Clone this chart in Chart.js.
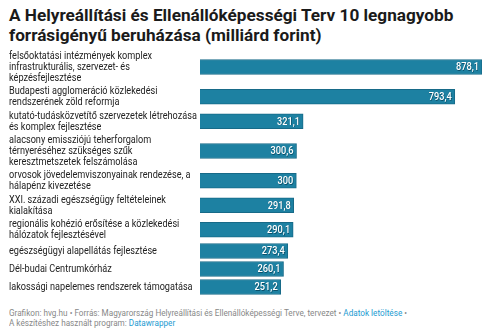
<!DOCTYPE html>
<html><head><meta charset="utf-8">
<script src="https://cdn.jsdelivr.net/npm/chart.js@4"></script>
<style>
html,body{margin:0;padding:0;background:#fff;width:490px;height:335px;overflow:hidden;font-family:Roboto,"Noto Sans",sans-serif;}
#title{position:absolute;left:9px;top:5px;width:475px;font-weight:bold;font-size:17.2px;line-height:20px;color:#1a1a1a;}
#wrap{position:absolute;left:0;top:0;width:490px;height:300px;}
#foot{position:absolute;left:9px;top:308px;font-size:9.5px;line-height:10px;color:#888;white-space:nowrap;transform:scaleX(0.86);transform-origin:0 0;}
#foot a{color:#1d9bd1;text-decoration:none;}
</style></head><body>
<div id="title">A Helyreállítási és Ellenállóképességi Terv 10 legnagyobb forrásigényű beruházása (milliárd forint)</div>
<div id="wrap"><canvas id="c"></canvas></div>
<div id="foot">Grafikon: hvg.hu • Forrás: Magyarország Helyreállítási és Ellenállóképességi Terve, tervezet • <a>Adatok letöltése</a> •<br>A készítéshez használt program: <a>Datawrapper</a></div>
<script>
const categories = [
  ["felsőoktatási intézmények komplex", "infrastrukturális, szervezet- és", "képzésfejlesztése"],
  ["Budapesti agglomeráció közlekedési", "rendszerének zöld reformja"],
  ["kutató-tudásközvetítő szervezetek létrehozása", "és komplex fejlesztése"],
  ["alacsony emissziójú teherforgalom", "térnyeréséhez szükséges szűk", "keresztmetszetek felszámolása"],
  ["orvosok jövedelemviszonyainak rendezése, a", "hálapénz kivezetése"],
  ["XXI. századi egészségügy feltételeinek", "kialakítása"],
  ["regionális kohézió erősítése a közlekedési", "hálózatok fejlesztésével"],
  ["egészségügyi alapellátás fejlesztése"],
  ["Dél-budai Centrumkórház"],
  ["lakossági napelemes rendszerek támogatása"]
];
const values = [878.1, 793.4, 321.1, 300.6, 300, 291.8, 290.1, 273.4, 260.1, 251.2];

// row slot size depends on number of label lines (layout only)
const slotByLines = {1: 18, 2: 24.5, 3: 35};
const centers = [];
let acc = 0;
categories.forEach(c => { const h = slotByLines[c.length]; centers.push(acc + h / 2); acc += h; });
const total = acc;

const fmt = v => String(v).replace('.', ',');
const NARROW = 0.83;

const narrowLabels = {
  id: 'narrowLabels',
  afterLayout(chart) {
    const s = chart.scales.y;
    if (s && !s._narrowed) {
      const orig = s.drawLabels.bind(s);
      s._computeLabelArea = () => undefined;
      s.drawLabels = function (area) {
        const ctx = this.ctx;
        ctx.save();
        ctx.translate(this.left, 0);
        ctx.scale(NARROW, 1);
        ctx.translate(-this.left, 0);
        orig(area);
        ctx.restore();
      };
      s._narrowed = true;
    }
  }
};

const valueLabels = {
  id: 'valueLabels',
  afterDatasetsDraw(chart) {
    const ctx = chart.ctx;
    const meta = chart.getDatasetMeta(0);
    ctx.save();
    ctx.font = '500 11px Roboto';
    ctx.textAlign = 'right';
    ctx.textBaseline = 'middle';
    meta.data.forEach((bar, i) => {
      const x = bar.x - 3, y = bar.y + 0.5;
      ctx.save();
      ctx.translate(x, y);
      ctx.scale(0.84, 1);
      ctx.fillStyle = 'rgba(0,50,70,0.6)';
      ctx.fillText(fmt(values[i]), 0.7, 0.6);
      ctx.fillStyle = '#ffffff';
      ctx.fillText(fmt(values[i]), 0, 0);
      ctx.restore();
    });
    ctx.restore();
  }
};

new Chart(document.getElementById('c'), {
  type: 'bar',
  data: {
    datasets: [{
      data: values.map((v, i) => ({x: v, y: centers[i]})),
      backgroundColor: '#1d81a2',
      borderColor: '#176a88',
      borderWidth: 1,
      barThickness: 15
    }]
  },
  options: {
    indexAxis: 'y',
    responsive: true,
    maintainAspectRatio: false,
    animation: false,
    layout: {padding: {left: 9, right: 8, top: 49.5, bottom: 4}},
    plugins: {legend: {display: false}, tooltip: {enabled: false}},
    scales: {
      x: {type: 'linear', min: 0, max: Math.max(...values), display: false},
      y: {
        type: 'linear', min: 0, max: total, reverse: true, offset: false,
        grid: {display: false}, border: {display: false},
        afterBuildTicks: s => { s.ticks = centers.map(c => ({value: c})); },
        afterFit: s => { s.width = 191; s.paddingTop = 0; s.paddingBottom = 0; },
        ticks: {
          autoSkip: false,
          crossAlign: 'far',
          padding: 0,
          color: '#222',
          font: {family: 'Roboto', size: 11, lineHeight: 1.0},
          callback: (v, i) => categories[i]
        }
      }
    }
  },
  plugins: [narrowLabels, valueLabels]
});
</script>
</body></html>
